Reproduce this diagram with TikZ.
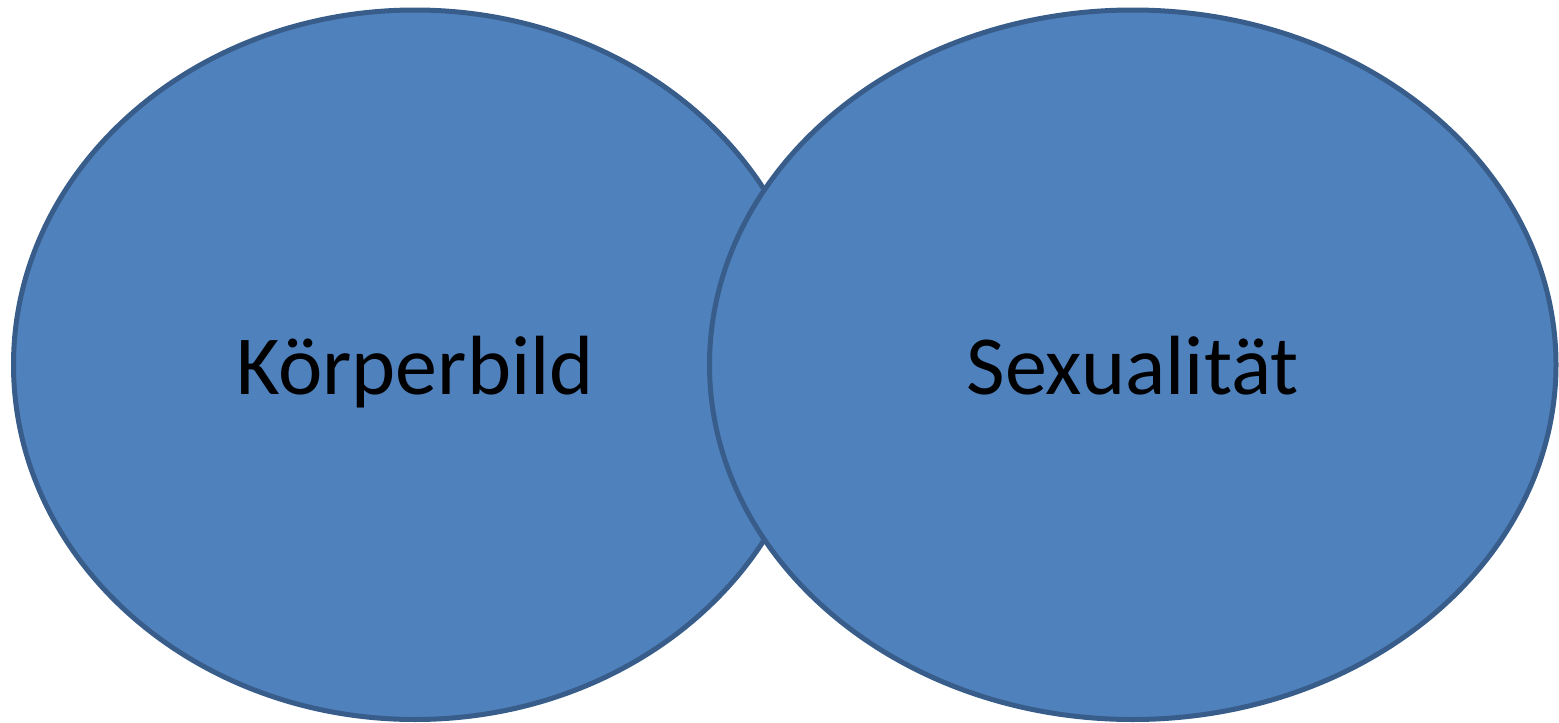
\documentclass[tikz,border=0pt]{standalone}
\usepackage{fontspec}
\setmainfont{Carlito}
\usetikzlibrary{shapes.geometric}
\definecolor{blobfill}{HTML}{4F81BD}
\definecolor{blobline}{HTML}{385D8A}
\tikzset{
    blob/.style={
        ellipse,
        draw=blobline,
        fill=blobfill,
        line width=5pt,
        inner sep=0pt},
    blobtext/.style={
        anchor=base,
        font=\fontsize{84}{92}\selectfont}}
\begin{document}
\begin{tikzpicture}[x=1pt,y=-1pt]
    \useasboundingbox (0,0) rectangle (1559,723);
    \node[blob, minimum width=803pt, minimum height=709.5pt] (koerper) at (415,364.75) {};
    \node[blob, minimum width=846.5pt, minimum height=709.5pt] (sex) at (1132.75,364.75) {};
    \node[blobtext] (koerpertext) at ([yshift=-30pt]koerper.center) {Körperbild};
    \node[blobtext] (sextext) at ([yshift=-30pt]sex.center) {Sexualität};
\end{tikzpicture}
\end{document}
